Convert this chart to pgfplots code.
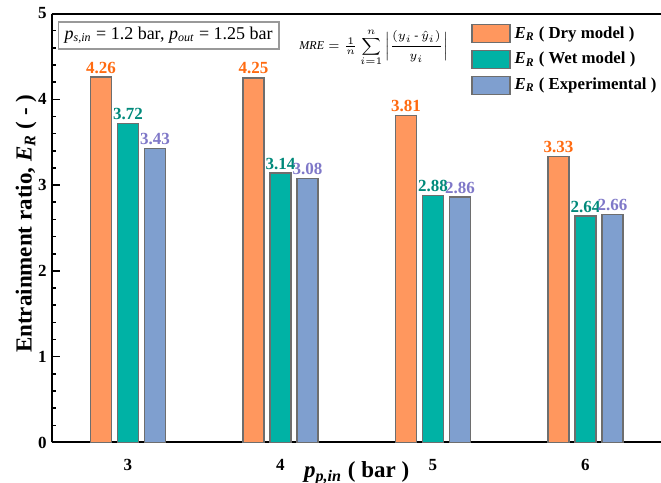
\documentclass[border=0pt]{standalone}
\usepackage{fontspec}
\setmainfont{Liberation Serif}
\usepackage{amsmath}
\usepackage{pgfplots}
\pgfplotsset{compat=1.18}
\definecolor{cOr}{HTML}{FF975E}
\definecolor{cGr}{HTML}{00B2A5}
\definecolor{cBl}{HTML}{7F9FCF}
\definecolor{tOr}{HTML}{FF6A10}
\definecolor{tGr}{HTML}{00897A}
\definecolor{tBl}{HTML}{7F78C8}
\definecolor{cEdge}{HTML}{6E6E6E}
\begin{document}
\begin{tikzpicture}
\begin{axis}[
  at={(0,0)}, anchor=south west,
  scale only axis, width=305pt, height=214.5pt,
  xmin=2.5, xmax=6.5, ymin=0, ymax=5,
  axis x line=box, axis y line=left,
  axis line style={-, line width=1pt, black},
  xtick={3,4,5,6}, xticklabels={3,4,5,6},
  xtick style={draw=none},
  ytick={0,1,2,3,4,5},
  minor y tick num=4,
  tick align=inside,
  major tick length=4pt, minor tick length=2pt,
  ytick style={line width=0.8pt, black},
  /pgf/number format/assume math mode=true,
  ticklabel style={font=\fontsize{8.5}{8.5}\selectfont\bfseries},
  yticklabel style={xshift=1pt},
  xticklabel style={yshift=-1pt},
  xlabel={\textbf{\textit{p}\textsubscript{\textit{p,in}} ( bar )}},
  xlabel style={at={(axis description cs:0.5,0)}, anchor=north, yshift=-6pt, font=\fontsize{11.5}{11.5}\selectfont},
  ylabel={\textbf{Entrainment ratio, \textit{E}\textsubscript{\textit{R}} ( - )}},
  ylabel style={at={(axis description cs:0,0.51)}, anchor=south, yshift=4pt, font=\fontsize{11.5}{11.5}\selectfont},
  ybar, bar width=10.5pt,
  every axis plot/.append style={line width=0.7pt, draw=cEdge,
     legend image code/.code={\draw[##1, line width=0.7pt] (0pt,-4.5pt) rectangle (19pt,4.5pt);}},
  nodes near coords={\pgfmathprintnumber[fixed,fixed zerofill,precision=2,assume math mode=true]{\pgfplotspointmeta}},
  nodes near coords style={font=\fontsize{8.5}{8.5}\selectfont\bfseries, inner sep=1.5pt},
  legend style={at={(0.687,0.978)}, anchor=north west, draw=none, fill=none,
     font=\fontsize{8.4}{8.4}\selectfont\bfseries, inner sep=0pt, row sep=2.6pt,
     nodes={inner xsep=1pt, inner ysep=1.5pt},
     /tikz/every odd column/.append style={column sep=1pt}},
  legend cell align=left,
  clip=false,
]
\addplot[fill=cOr, bar shift=-13.5pt, every node near coord/.append style={text=tOr}]
  coordinates {(3,4.26) (4,4.25) (5,3.81) (6,3.33)};
\addlegendentry{\textit{E}\textsubscript{\textit{R}} ( Dry model )}
\addplot[fill=cGr, bar shift=0pt, every node near coord/.append style={text=tGr}]
  coordinates {(3,3.72) (4,3.14) (5,2.88) (6,2.64)};
\addlegendentry{\textit{E}\textsubscript{\textit{R}} ( Wet model )}
\addplot[fill=cBl, bar shift=13.5pt, every node near coord/.append style={text=tBl}]
  coordinates {(3,3.43) (4,3.08) (5,2.86) (6,2.66)};
\addlegendentry{\textit{E}\textsubscript{\textit{R}} ( Experimental )}
\node[draw=gray!80, line width=0.9pt, anchor=north west, inner xsep=3pt, inner ysep=2pt,
      font=\fontsize{9}{9}\selectfont, minimum width=110pt, minimum height=13.5pt]
  at ([xshift=3pt, yshift=-3.75pt]rel axis cs:0,1)
  {\textit{p}\textsubscript{\textit{s,in}} = 1.2 bar, \textit{p}\textsubscript{\textit{out}} = 1.25 bar};
\node[anchor=center, font=\fontsize{6}{6}\selectfont, inner sep=0pt]
  at ([xshift=161pt, yshift=-17pt]rel axis cs:0,1)
  {$\displaystyle \mathit{MRE} = \tfrac{1}{n}\sum_{i=1}^{n}\left|\frac{(y_i\,\mbox{-}\,\hat{y}_i)}{y_i}\right|$};
\end{axis}
\pgfresetboundingbox
\path[use as bounding box] (-25.85pt,-20.25pt) rectangle (304.65pt,221.25pt);
\end{tikzpicture}
\end{document}
